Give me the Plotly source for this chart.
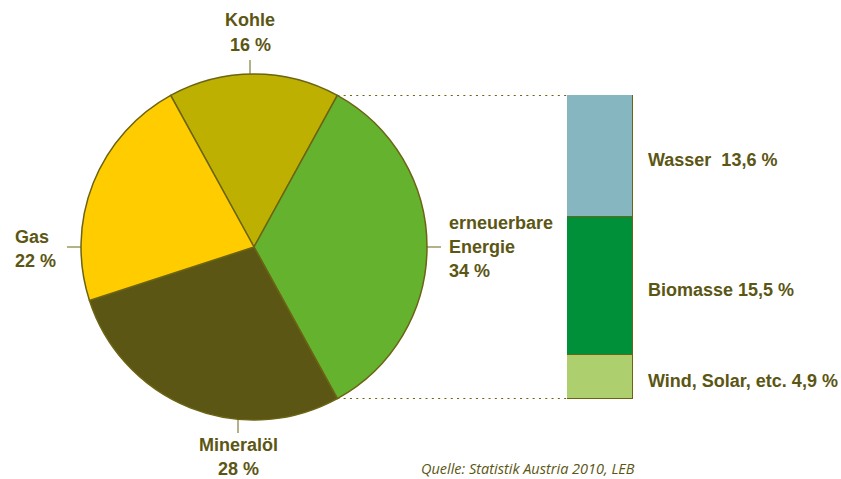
import math

import plotly.graph_objects as go

W, H = 841, 479

# pie data (clockwise from Kohle, which sits centred at 12 o'clock)
pie_labels = ["Kohle", "erneuerbare Energie", "Mineralöl", "Gas"]
pie_values = [16, 34, 28, 22]
pie_colors = ["#BDB000", "#65B22E", "#5C5614", "#FFCC00"]

# breakdown of the renewables, bottom to top
ren_labels = ["Wind, Solar, etc. 4,9 %", "Biomasse 15,5 %", "Wasser  13,6 %"]
ren_values = [4.9, 15.5, 13.6]
ren_colors = ["#AECF6E", "#00903A", "#86B6C0"]

TEXT = "#5C5614"
LINE = "#6B6414"
FONT = "Liberation Sans"


def px_x(x):
    return x / W


def px_y(y):
    return 1 - y / H


# pie placement in pixels
cx, cy, r = 254, 247, 173
pie_dom_x = [px_x(cx - r), px_x(cx + r)]
pie_dom_y = [px_y(cy + r), px_y(cy - r)]

# stacked bar placement
bar_dom_x = [px_x(567), px_x(633)]
bar_dom_y = [px_y(399), px_y(95)]

total = sum(pie_values)
rotation = -pie_values[0] / total * 180

fig = go.Figure()

fig.add_trace(
    go.Pie(
        labels=pie_labels,
        values=pie_values,
        sort=False,
        direction="clockwise",
        rotation=rotation,
        textinfo="none",
        hoverinfo="label+percent",
        marker=dict(colors=pie_colors, line=dict(color=LINE, width=1.5)),
        domain=dict(x=pie_dom_x, y=pie_dom_y),
        showlegend=False,
    )
)

for label, value, color in zip(ren_labels, ren_values, ren_colors):
    fig.add_trace(
        go.Bar(
            x=[0],
            y=[value],
            width=1,
            name=label,
            marker=dict(color=color, line=dict(color=LINE, width=1.5)),
            showlegend=False,
        )
    )

ren_total = sum(ren_values)

# dotted connectors from renewables slice edges to the bar
a0 = math.radians(rotation + pie_values[0] / total * 360)
edge_x = px_x(cx + r * math.sin(a0))
shapes = []
for yv in (0, ren_total):
    shapes.append(
        dict(
            type="line", xref="paper", yref="y",
            x0=edge_x, x1=bar_dom_x[0], y0=yv, y1=yv,
            line=dict(color=LINE, width=2, dash="2px,4.3px"),
            layer="below",
        )
    )

# small leader ticks next to pie labels
for x0, y0, x1, y1 in [
    (250, 60, 250, 74),
    (67, 247, 81, 247),
    (427, 247, 441, 247),
    (238, 420, 238, 433),
]:
    shapes.append(
        dict(
            type="line", xref="paper", yref="paper",
            x0=px_x(x0), x1=px_x(x1), y0=px_y(y0), y1=px_y(y1),
            line=dict(color=LINE, width=1),
        )
    )

font = dict(family=FONT, size=18, color=TEXT, weight="bold")
annotations = []


def label(text, x, y, xanchor):
    annotations.append(
        dict(
            text=text, x=px_x(x), y=px_y(y), xref="paper", yref="paper",
            xanchor=xanchor, yanchor="middle", showarrow=False, font=font,
            align="left" if xanchor == "left" else "center",
        )
    )


label("Kohle", 250, 20, "center")
label("16 %", 250, 45, "center")
label("Gas", 13, 237, "left")
label("22 %", 13, 261, "left")
label("erneuerbare", 447, 223, "left")
label("Energie", 447, 247, "left")
label("34 %", 447, 271, "left")
label("Mineralöl", 238, 445, "center")
label("28 %", 238, 469, "center")

# bar labels at segment middles
base = 0
for text, value in zip(ren_labels, ren_values):
    annotations.append(
        dict(
            text=text, x=0.5, y=base + value / 2, xref="x", yref="y",
            xanchor="left", yanchor="middle", xshift=13, yshift=-4,
            showarrow=False, font=font,
        )
    )
    base += value

annotations.append(
    dict(
        text="<i>Quelle: Statistik Austria 2010, LEB</i>",
        x=px_x(419), y=px_y(468), xref="paper", yref="paper",
        xanchor="left", yanchor="middle", showarrow=False,
        font=dict(family="Open Sans", size=14.5, color=TEXT),
    )
)

fig.update_layout(
    width=W,
    height=H,
    margin=dict(l=0, r=0, t=0, b=0),
    paper_bgcolor="white",
    plot_bgcolor="rgba(0,0,0,0)",
    barmode="stack",
    bargap=0,
    xaxis=dict(domain=bar_dom_x, range=[-0.5, 0.5], visible=False, fixedrange=True),
    yaxis=dict(domain=bar_dom_y, range=[0, ren_total], visible=False, fixedrange=True),
    shapes=shapes,
    annotations=annotations,
)

fig.write_html(
    "out.html",
    config={"displayModeBar": False},
    post_script="document.body.style.margin='0';",
)
